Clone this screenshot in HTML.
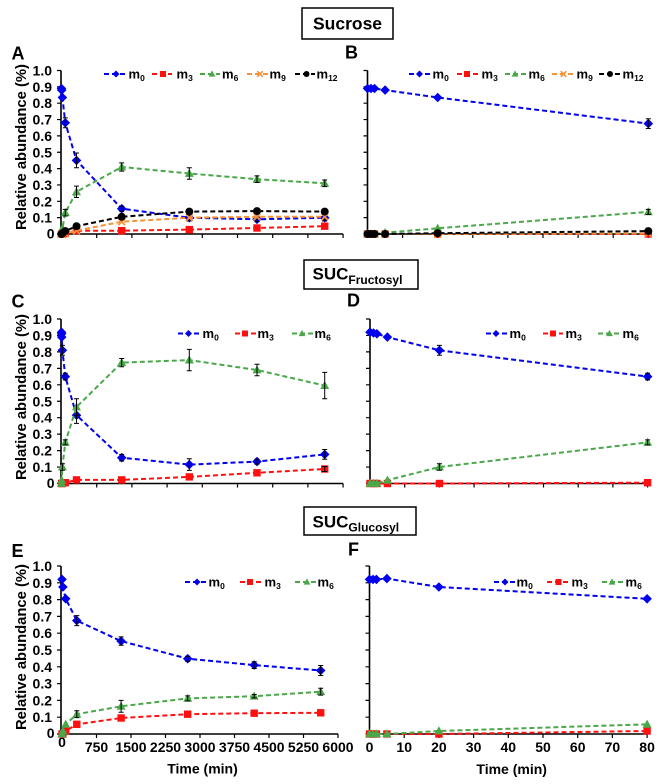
<!DOCTYPE html>
<html><head><meta charset="utf-8"><style>
html,body{margin:0;padding:0;background:#fff;}
svg{display:block;font-family:"Liberation Sans",Arial,sans-serif;font-weight:bold;}
.ax{fill:none;stroke:#000;stroke-width:1.6}
.tk{fill:none;stroke:#000;stroke-width:1.2}
.eb{fill:none;stroke:#000;stroke-width:1}
.l{fill:none;stroke-width:2;stroke-dasharray:5 3}
.bl{stroke:#0000ee}.rd{stroke:#ff1010}.gr{stroke:#4aa84a}.or{stroke:#f7913a}.bk{stroke:#000}
.yl{font-size:14px;text-anchor:end}
.xl{font-size:14px;text-anchor:middle}
.lg{font-size:13px}
.sb{font-size:8.5px}
</style></head><body>
<svg width="663" height="784" viewBox="0 0 663 784" xmlns="http://www.w3.org/2000/svg">
<defs>
<path id="D" d="M0,-4.8 L4.8,0 L0,4.8 L-4.8,0Z" fill="#0000ee"/>
<rect id="S" x="-3.7" y="-3.7" width="7.4" height="7.4" fill="#ff1010"/>
<path id="T" d="M0,-4.7 L4.5,3.4 L-4.5,3.4Z" fill="#4aa84a"/>
<path id="X" d="M-3.4,-3.4 L3.4,3.4 M3.4,-3.4 L-3.4,3.4" stroke="#f7913a" stroke-width="1.8" fill="none"/>
<circle id="C" r="4" fill="#000"/>
<path id="d" d="M0,-3.5 L3.5,0 L0,3.5 L-3.5,0Z" fill="#0000ee"/>
<rect id="s" x="-3" y="-3" width="6" height="6" fill="#ff1010"/>
<path id="t" d="M0,-3.6 L3.4,2.6 L-3.4,2.6Z" fill="#4aa84a"/>
<path id="x" d="M-2.8,-2.8 L2.8,2.8 M2.8,-2.8 L-2.8,2.8" stroke="#f7913a" stroke-width="1.5" fill="none"/>
<circle id="c" r="3" fill="#000"/>
</defs>
<rect width="663" height="784" fill="#fff"/>

<!-- Title boxes -->
<rect x="302" y="8" width="91" height="31" fill="none" stroke="#000" stroke-width="1.5"/>
<text x="347.5" y="29.5" font-size="17.5" text-anchor="middle">Sucrose</text>
<rect x="304" y="260" width="114" height="29" fill="none" stroke="#000" stroke-width="1.5"/>
<text x="312.5" y="279.5" font-size="17">SUC<tspan font-size="12" dy="4.5">Fructosyl</tspan></text>
<rect x="304" y="507" width="112" height="28" fill="none" stroke="#000" stroke-width="1.5"/>
<text x="312.5" y="527.5" font-size="17">SUC<tspan font-size="12" dy="4">Glucosyl</tspan></text>

<!-- Panel letters -->
<text x="11.5" y="59.5" font-size="18">A</text>
<text x="345" y="58.5" font-size="18">B</text>
<text x="11.5" y="307.5" font-size="18">C</text>
<text x="347" y="306.5" font-size="18">D</text>
<text x="11.5" y="557" font-size="18">E</text>
<text x="348" y="555.5" font-size="18">F</text>

<!-- Y axis titles -->
<text transform="translate(26,147) rotate(-90)" font-size="15" text-anchor="middle" textLength="166" lengthAdjust="spacingAndGlyphs">Relative abundance (%)</text>
<text transform="translate(26,397) rotate(-90)" font-size="15" text-anchor="middle" textLength="166" lengthAdjust="spacingAndGlyphs">Relative abundance (%)</text>
<text transform="translate(26,647) rotate(-90)" font-size="15" text-anchor="middle" textLength="166" lengthAdjust="spacingAndGlyphs">Relative abundance (%)</text>

<!-- Y tick labels -->
<g class="yl">
<text x="52" y="75.5">1.0</text><text x="52" y="91.85">0.9</text><text x="52" y="108.2">0.8</text><text x="52" y="124.55">0.7</text><text x="52" y="140.9">0.6</text><text x="52" y="157.25">0.5</text><text x="52" y="173.6">0.4</text><text x="52" y="189.95">0.3</text><text x="52" y="206.3">0.2</text><text x="52" y="222.65">0.1</text><text x="54.5" y="238.5">0</text>
<text x="52" y="324">1.0</text><text x="52" y="340.45">0.9</text><text x="52" y="356.9">0.8</text><text x="52" y="373.35">0.7</text><text x="52" y="389.8">0.6</text><text x="52" y="406.25">0.5</text><text x="52" y="422.7">0.4</text><text x="52" y="439.15">0.3</text><text x="52" y="455.6">0.2</text><text x="52" y="472.05">0.1</text><text x="54.5" y="488">0</text>
<text x="52" y="571">1.0</text><text x="52" y="587.8">0.9</text><text x="52" y="604.6">0.8</text><text x="52" y="621.4">0.7</text><text x="52" y="638.2">0.6</text><text x="52" y="655">0.5</text><text x="52" y="671.8">0.4</text><text x="52" y="688.6">0.3</text><text x="52" y="705.4">0.2</text><text x="52" y="722.2">0.1</text><text x="54.5" y="738">0</text>
</g>

<!-- X tick labels -->
<g class="xl">
<text x="62" y="747">0</text><text x="96.5" y="752">750</text><text x="131" y="752">1500</text><text x="165.5" y="752">2250</text><text x="200" y="752">3000</text><text x="234.5" y="752">3750</text><text x="269" y="752">4500</text><text x="303.5" y="752">5250</text><text x="338" y="752">6000</text>
<text x="369.5" y="752">0</text><text x="404.2" y="752">10</text><text x="438.9" y="752">20</text><text x="473.6" y="752">30</text><text x="508.3" y="752">40</text><text x="543" y="752">50</text><text x="577.7" y="752">60</text><text x="612.4" y="752">70</text><text x="647.1" y="752">80</text>
</g>
<text x="202.5" y="773.5" font-size="14" text-anchor="middle">Time (min)</text>
<text x="511.7" y="774" font-size="14" text-anchor="middle">Time (min)</text>

<!-- Axes -->
<path class="ax" d="M61 70.5 V234 H343.1 M367.5 70.5 V234 H648.3 M61 319 V483.5 H343.1 M370 319 V483.5 H647.6 M61 566 V734 H338 M369.5 566 V734 H647.1"/>
<path class="tk" d="M57 70.5H61M57 86.85H61M57 103.2H61M57 119.55H61M57 135.9H61M57 152.25H61M57 168.6H61M57 184.95H61M57 201.3H61M57 217.65H61M57 234H61
M363.5 70.5H367.5M363.5 86.85H367.5M363.5 103.2H367.5M363.5 119.55H367.5M363.5 135.9H367.5M363.5 152.25H367.5M363.5 168.6H367.5M363.5 184.95H367.5M363.5 201.3H367.5M363.5 217.65H367.5M363.5 234H367.5
M57 319H61M57 335.45H61M57 351.9H61M57 368.35H61M57 384.8H61M57 401.25H61M57 417.7H61M57 434.15H61M57 450.6H61M57 467.05H61M57 483.5H61
M366 319H370M366 335.45H370M366 351.9H370M366 368.35H370M366 384.8H370M366 401.25H370M366 417.7H370M366 434.15H370M366 450.6H370M366 467.05H370M366 483.5H370
M57 566H61M57 582.8H61M57 599.6H61M57 616.4H61M57 633.2H61M57 650H61M57 666.8H61M57 683.6H61M57 700.4H61M57 717.2H61M57 734H61
M365.5 566H369.5M365.5 582.8H369.5M365.5 599.6H369.5M365.5 616.4H369.5M365.5 633.2H369.5M365.5 650H369.5M365.5 666.8H369.5M365.5 683.6H369.5M365.5 700.4H369.5M365.5 717.2H369.5M365.5 734H369.5
M96.7 234V238M131.9 234V238M167.1 234V238M202.3 234V238M237.5 234V238M272.7 234V238M307.9 234V238M343.1 234V238
M96.7 483.5V487.5M131.9 483.5V487.5M167.1 483.5V487.5M202.3 483.5V487.5M237.5 483.5V487.5M272.7 483.5V487.5M307.9 483.5V487.5M343.1 483.5V487.5
M96.5 734V738M131 734V738M165.5 734V738M200 734V738M234.5 734V738M269 734V738M303.5 734V738M338 734V738
M402.6 234V238M437.7 234V238M472.8 234V238M507.9 234V238M543 234V238M578.1 234V238M613.2 234V238M648.3 234V238
M404.7 483.5V487.5M439.4 483.5V487.5M474.1 483.5V487.5M508.8 483.5V487.5M543.5 483.5V487.5M578.2 483.5V487.5M612.9 483.5V487.5M647.6 483.5V487.5
M404.2 734V738M438.9 734V738M473.6 734V738M508.3 734V738M543 734V738M577.7 734V738M612.4 734V738M647.1 734V738"/>

<!-- ========== Panel A ========== -->
<polyline class="l bl" points="61.5,88.5 61.7,90.1 62.4,97.5 65.3,122.8 76.5,160.4 121.7,208.7 189.3,217.7 257,219.3 324.7,217.7"/>
<g><use href="#D" x="61.5" y="88.5"/><use href="#D" x="61.7" y="90.1"/><use href="#D" x="62.4" y="97.5"/><use href="#D" x="65.3" y="122.8"/><use href="#D" x="76.5" y="160.4"/><use href="#D" x="121.7" y="208.7"/><use href="#D" x="189.3" y="217.7"/><use href="#D" x="257" y="219.3"/><use href="#D" x="324.7" y="217.7"/></g>
<path class="eb" d="M65.3 117.9V127.7M62.8 117.9H67.8M62.8 127.7H67.8 M76.5 153V167.8M74 153H79M74 167.8H79 M121.7 206.2V211.2M119.2 206.2H124.2M119.2 211.2H124.2 M189.3 214.4V221M186.8 214.4H191.8M186.8 221H191.8 M257 216.8V221.8M254.5 216.8H259.5M254.5 221.8H259.5 M324.7 214.4V221M322.2 214.4H327.2M322.2 221H327.2"/>
<polyline class="l rd" points="61.5,234 62.4,234 65.3,233.5 76.5,230.7 121.7,230.7 189.3,229.6 257,228 324.7,226.2"/>
<g><use href="#S" x="61.5" y="234"/><use href="#S" x="62.4" y="234"/><use href="#S" x="65.3" y="233.5"/><use href="#S" x="76.5" y="230.7"/><use href="#S" x="121.7" y="230.7"/><use href="#S" x="189.3" y="229.6"/><use href="#S" x="257" y="228"/><use href="#S" x="324.7" y="226.2"/></g>
<polyline class="l gr" points="61.5,234 61.7,232.7 62.4,228.3 65.3,212.7 76.5,191.8 121.7,167 189.3,173.5 257,179.2 324.7,183.3"/>
<g><use href="#T" x="61.5" y="234"/><use href="#T" x="61.7" y="232.7"/><use href="#T" x="62.4" y="228.3"/><use href="#T" x="65.3" y="212.7"/><use href="#T" x="76.5" y="191.8"/><use href="#T" x="121.7" y="167"/><use href="#T" x="189.3" y="173.5"/><use href="#T" x="257" y="179.2"/><use href="#T" x="324.7" y="183.3"/></g>
<path class="eb" d="M65.3 209.4V216M62.8 209.4H67.8M62.8 216H67.8 M76.5 186.1V197.5M74 186.1H79M74 197.5H79 M121.7 162.9V171.1M119.2 162.9H124.2M119.2 171.1H124.2 M189.3 167.8V179.2M186.8 167.8H191.8M186.8 179.2H191.8 M257 175.9V182.5M254.5 175.9H259.5M254.5 182.5H259.5 M324.7 180V186.6M322.2 180H327.2M322.2 186.6H327.2"/>
<polyline class="l or" points="61.5,234 62.4,234 65.3,233.5 76.5,230.7 121.7,221.7 189.3,217.7 257,216.8 324.7,216.8"/>
<g><use href="#X" x="61.5" y="234"/><use href="#X" x="65.3" y="233.5"/><use href="#X" x="76.5" y="230.7"/><use href="#X" x="121.7" y="221.7"/><use href="#X" x="189.3" y="217.7"/><use href="#X" x="257" y="216.8"/><use href="#X" x="324.7" y="216.8"/></g>
<polyline class="l bk" points="61.5,234 61.7,234 62.4,233.2 65.3,231.1 76.5,226.2 121.7,216.8 189.3,211.6 257,211.1 324.7,211.6"/>
<g><use href="#C" x="61.5" y="234"/><use href="#C" x="62.4" y="233.2"/><use href="#C" x="65.3" y="231.1"/><use href="#C" x="76.5" y="226.2"/><use href="#C" x="121.7" y="216.8"/><use href="#C" x="189.3" y="211.6"/><use href="#C" x="257" y="211.1"/><use href="#C" x="324.7" y="211.6"/></g>
<path class="eb" d="M189.3 209.8V213.4M186.8 209.8H191.8M186.8 213.4H191.8"/>

<!-- ========== Panel B ========== -->
<polyline class="l bl" points="367.5,88.5 371,88.5 374.5,88.5 385.1,90.1 437.7,97.5 648.3,123.6"/>
<g><use href="#D" x="367.5" y="88.5"/><use href="#D" x="371" y="88.5"/><use href="#D" x="374.5" y="88.5"/><use href="#D" x="385.1" y="90.1"/><use href="#D" x="437.7" y="97.5"/><use href="#D" x="648.3" y="123.6"/></g>
<path class="eb" d="M648.3 118.7V128.5M645.8 118.7H650.8M645.8 128.5H650.8"/>
<polyline class="l rd" points="367.5,234 648.3,234"/>
<g><use href="#S" x="367.5" y="234"/><use href="#S" x="371" y="234"/><use href="#S" x="374.5" y="234"/><use href="#S" x="385.1" y="234"/><use href="#S" x="437.7" y="234"/><use href="#S" x="648.3" y="234"/></g>
<polyline class="l gr" points="367.5,234 371,234 374.5,234 385.1,232.7 437.7,228.3 648.3,211.9"/>
<g><use href="#T" x="367.5" y="234"/><use href="#T" x="371" y="234"/><use href="#T" x="374.5" y="234"/><use href="#T" x="385.1" y="232.7"/><use href="#T" x="437.7" y="228.3"/><use href="#T" x="648.3" y="211.9"/></g>
<path class="eb" d="M648.3 209.4V214.4M645.8 209.4H650.8M645.8 214.4H650.8"/>
<polyline class="l or" points="367.5,234 437.7,234 648.3,233.5"/>
<g><use href="#X" x="367.5" y="234"/><use href="#X" x="374.5" y="234"/><use href="#X" x="385.1" y="234"/><use href="#X" x="437.7" y="234"/><use href="#X" x="648.3" y="233.5"/></g>
<polyline class="l bk" points="367.5,234 371,234 374.5,234 385.1,234 437.7,233.2 648.3,231.1"/>
<g><use href="#C" x="367.5" y="234"/><use href="#C" x="371" y="234"/><use href="#C" x="374.5" y="234"/><use href="#C" x="385.1" y="234"/><use href="#C" x="437.7" y="233.2"/><use href="#C" x="648.3" y="231.1"/></g>

<!-- ========== Panel C ========== -->
<polyline class="l bl" points="61.5,332.2 61.5,333 61.6,333.8 61.7,337.1 62.4,350.3 65.3,376.6 76.5,415.2 121.7,457.7 189.3,464.6 257,461.6 324.7,454.4"/>
<g><use href="#D" x="61.5" y="332.2"/><use href="#D" x="61.6" y="333.8"/><use href="#D" x="61.7" y="337.1"/><use href="#D" x="62.4" y="350.3"/><use href="#D" x="65.3" y="376.6"/><use href="#D" x="76.5" y="415.2"/><use href="#D" x="121.7" y="457.7"/><use href="#D" x="189.3" y="464.6"/><use href="#D" x="257" y="461.6"/><use href="#D" x="324.7" y="454.4"/></g>
<path class="eb" d="M62.4 345.4V355.2M59.9 345.4H64.9M59.9 355.2H64.9 M65.3 373.3V379.9M62.8 373.3H67.8M62.8 379.9H67.8 M76.5 407V423.4M74 407H79M74 423.4H79 M121.7 454.4V461M119.2 454.4H124.2M119.2 461H124.2 M189.3 458.8V470.4M186.8 458.8H191.8M186.8 470.4H191.8 M257 459.1V464.1M254.5 459.1H259.5M254.5 464.1H259.5 M324.7 449.5V459.3M322.2 449.5H327.2M322.2 459.3H327.2"/>
<polyline class="l rd" points="61.5,483.5 62.4,483.5 65.3,482.7 76.5,479.9 121.7,479.9 189.3,476.9 257,472.8 324.7,469"/>
<g><use href="#S" x="61.5" y="483.5"/><use href="#S" x="62.4" y="483.5"/><use href="#S" x="65.3" y="482.7"/><use href="#S" x="76.5" y="479.9"/><use href="#S" x="121.7" y="479.9"/><use href="#S" x="189.3" y="476.9"/><use href="#S" x="257" y="472.8"/><use href="#S" x="324.7" y="469"/></g>
<path class="eb" d="M324.7 466.5V471.5M322.2 466.5H327.2M322.2 471.5H327.2"/>
<polyline class="l gr" points="61.5,483.5 61.6,483.5 61.7,480.2 62.4,467 65.3,442.4 76.5,407 121.7,362.6 189.3,360.1 257,370 324.7,385.6"/>
<g><use href="#T" x="61.5" y="483.5"/><use href="#T" x="61.7" y="480.2"/><use href="#T" x="62.4" y="467"/><use href="#T" x="65.3" y="442.4"/><use href="#T" x="76.5" y="407"/><use href="#T" x="121.7" y="362.6"/><use href="#T" x="189.3" y="360.1"/><use href="#T" x="257" y="370"/><use href="#T" x="324.7" y="385.6"/></g>
<path class="eb" d="M62.4 463.7V470.3M59.9 463.7H64.9M59.9 470.3H64.9 M65.3 439.9V444.9M62.8 439.9H67.8M62.8 444.9H67.8 M76.5 398.8V415.2M74 398.8H79M74 415.2H79 M121.7 358.5V366.7M119.2 358.5H124.2M119.2 366.7H124.2 M189.3 349.4V370.8M186.8 349.4H191.8M186.8 370.8H191.8 M257 364.2V375.8M254.5 364.2H259.5M254.5 375.8H259.5 M324.7 372.4V398.8M322.2 372.4H327.2M322.2 398.8H327.2"/>

<!-- ========== Panel D ========== -->
<polyline class="l bl" points="370,332.2 373.5,333 376.9,333.8 387.4,337.1 439.4,350.3 647.6,376.6"/>
<g><use href="#D" x="370" y="332.2"/><use href="#D" x="373.5" y="333"/><use href="#D" x="376.9" y="333.8"/><use href="#D" x="387.4" y="337.1"/><use href="#D" x="439.4" y="350.3"/><use href="#D" x="647.6" y="376.6"/></g>
<path class="eb" d="M439.4 345.4V355.2M436.9 345.4H441.9M436.9 355.2H441.9 M647.6 373.3V379.9M645.1 373.3H650.1M645.1 379.9H650.1"/>
<polyline class="l rd" points="370,483.5 439.4,483.5 647.6,482.7"/>
<g><use href="#S" x="370" y="483.5"/><use href="#S" x="373.5" y="483.5"/><use href="#S" x="376.9" y="483.5"/><use href="#S" x="387.4" y="483.5"/><use href="#S" x="439.4" y="483.5"/><use href="#S" x="647.6" y="482.7"/></g>
<polyline class="l gr" points="370,483.5 373.5,483.5 376.9,483.5 387.4,480.2 439.4,467 647.6,442.4"/>
<g><use href="#T" x="370" y="483.5"/><use href="#T" x="373.5" y="483.5"/><use href="#T" x="376.9" y="483.5"/><use href="#T" x="387.4" y="480.2"/><use href="#T" x="439.4" y="467"/><use href="#T" x="647.6" y="442.4"/></g>
<path class="eb" d="M439.4 463.7V470.3M436.9 463.7H441.9M436.9 470.3H441.9 M647.6 439.9V444.9M645.1 439.9H650.1M645.1 444.9H650.1"/>

<!-- ========== Panel E ========== -->
<polyline class="l bl" points="62,579.4 62.2,578.6 62.9,587 65.7,598.8 76.8,620.6 121.1,641.1 187.7,658.7 254.2,665.1 320.7,670.5"/>
<g><use href="#D" x="62" y="579.4"/><use href="#D" x="62.9" y="587"/><use href="#D" x="65.7" y="598.8"/><use href="#D" x="76.8" y="620.6"/><use href="#D" x="121.1" y="641.1"/><use href="#D" x="187.7" y="658.7"/><use href="#D" x="254.2" y="665.1"/><use href="#D" x="320.7" y="670.5"/></g>
<path class="eb" d="M76.8 615.6V625.6M74.3 615.6H79.3M74.3 625.6H79.3 M121.1 636.9V645.3M118.6 636.9H123.6M118.6 645.3H123.6 M187.7 656.2V661.2M185.2 656.2H190.2M185.2 661.2H190.2 M254.2 661.7V668.5M251.7 661.7H256.7M251.7 668.5H256.7 M320.7 665.5V675.5M318.2 665.5H323.2M318.2 675.5H323.2"/>
<polyline class="l rd" points="62,734 62.9,734 65.7,731 76.8,724.3 121.1,718 187.7,714.2 254.2,713.2 320.7,712.8"/>
<g><use href="#S" x="62" y="734"/><use href="#S" x="62.9" y="734"/><use href="#S" x="65.7" y="731"/><use href="#S" x="76.8" y="724.3"/><use href="#S" x="121.1" y="718"/><use href="#S" x="187.7" y="714.2"/><use href="#S" x="254.2" y="713.2"/><use href="#S" x="320.7" y="712.8"/></g>
<polyline class="l gr" points="62,734 62.2,734 62.9,731 65.7,724.3 76.8,714.2 121.1,706.3 187.7,698.4 254.2,696.2 320.7,691.7"/>
<g><use href="#T" x="62" y="734"/><use href="#T" x="62.9" y="731"/><use href="#T" x="65.7" y="724.3"/><use href="#T" x="76.8" y="714.2"/><use href="#T" x="121.1" y="706.3"/><use href="#T" x="187.7" y="698.4"/><use href="#T" x="254.2" y="696.2"/><use href="#T" x="320.7" y="691.7"/></g>
<path class="eb" d="M76.8 710.8V717.6M74.3 710.8H79.3M74.3 717.6H79.3 M121.1 700.4V712.2M118.6 700.4H123.6M118.6 712.2H123.6 M187.7 695.9V700.9M185.2 695.9H190.2M185.2 700.9H190.2 M254.2 694.5V697.9M251.7 694.5H256.7M251.7 697.9H256.7 M320.7 688.3V695.1M318.2 688.3H323.2M318.2 695.1H323.2"/>

<!-- ========== Panel F ========== -->
<polyline class="l bl" points="369.5,579.4 373,579.4 376.4,579.4 386.9,578.6 438.9,587 647.1,598.8"/>
<g><use href="#D" x="369.5" y="579.4"/><use href="#D" x="373" y="579.4"/><use href="#D" x="376.4" y="579.4"/><use href="#D" x="386.9" y="578.6"/><use href="#D" x="438.9" y="587"/><use href="#D" x="647.1" y="598.8"/></g>
<polyline class="l rd" points="369.5,734 438.9,734 647.1,731"/>
<g><use href="#S" x="369.5" y="734"/><use href="#S" x="373" y="734"/><use href="#S" x="376.4" y="734"/><use href="#S" x="386.9" y="734"/><use href="#S" x="438.9" y="734"/><use href="#S" x="647.1" y="731"/></g>
<polyline class="l gr" points="369.5,734 386.9,734 438.9,731 647.1,724.3"/>
<g><use href="#T" x="369.5" y="734"/><use href="#T" x="373" y="734"/><use href="#T" x="376.4" y="734"/><use href="#T" x="386.9" y="734"/><use href="#T" x="438.9" y="731"/><use href="#T" x="647.1" y="724.3"/></g>

<!-- ========== Legends ========== -->
<!-- A -->
<g>
<line class="l bl" x1="104" y1="74" x2="126" y2="74"/><use href="#d" x="116" y="74"/>
<text class="lg" x="128.5" y="78.5">m<tspan class="sb" dy="2.5">0</tspan></text>
<line class="l rd" x1="152" y1="74" x2="172" y2="74"/><use href="#s" x="163" y="74"/>
<text class="lg" x="176.5" y="78.5">m<tspan class="sb" dy="2.5">3</tspan></text>
<line class="l gr" x1="200" y1="74" x2="220" y2="74"/><use href="#t" x="212" y="74"/>
<text class="lg" x="222" y="78.5">m<tspan class="sb" dy="2.5">6</tspan></text>
<line class="l or" x1="247" y1="74" x2="268" y2="74"/><use href="#x" x="260" y="74"/>
<text class="lg" x="269.5" y="78.5">m<tspan class="sb" dy="2.5">9</tspan></text>
<line class="l bk" x1="295" y1="74" x2="315" y2="74"/><use href="#c" x="306.5" y="74"/>
<text class="lg" x="316.5" y="78.5">m<tspan class="sb" dy="2.5">12</tspan></text>
</g>
<!-- B -->
<g>
<line class="l bl" x1="409" y1="74" x2="431" y2="74"/><use href="#d" x="419.5" y="74"/>
<text class="lg" x="432.5" y="78.5">m<tspan class="sb" dy="2.5">0</tspan></text>
<line class="l rd" x1="457" y1="74" x2="478" y2="74"/><use href="#s" x="467" y="74"/>
<text class="lg" x="481.5" y="78.5">m<tspan class="sb" dy="2.5">3</tspan></text>
<line class="l gr" x1="505" y1="74" x2="527" y2="74"/><use href="#t" x="515" y="74"/>
<text class="lg" x="528.5" y="78.5">m<tspan class="sb" dy="2.5">6</tspan></text>
<line class="l or" x1="552" y1="74" x2="575" y2="74"/><use href="#x" x="563.5" y="74"/>
<text class="lg" x="576.5" y="78.5">m<tspan class="sb" dy="2.5">9</tspan></text>
<line class="l bk" x1="599" y1="74" x2="621" y2="74"/><use href="#c" x="610" y="74"/>
<text class="lg" x="622.5" y="78.5">m<tspan class="sb" dy="2.5">12</tspan></text>
</g>
<!-- C -->
<g>
<line class="l bl" x1="178" y1="333.5" x2="200" y2="333.5"/><use href="#d" x="188.5" y="333.5"/>
<text class="lg" x="202.5" y="338">m<tspan class="sb" dy="2.5">0</tspan></text>
<line class="l rd" x1="235" y1="333.5" x2="256" y2="333.5"/><use href="#s" x="245" y="333.5"/>
<text class="lg" x="257.5" y="338">m<tspan class="sb" dy="2.5">3</tspan></text>
<line class="l gr" x1="292" y1="333.5" x2="313" y2="333.5"/><use href="#t" x="302" y="333.5"/>
<text class="lg" x="314.5" y="338">m<tspan class="sb" dy="2.5">6</tspan></text>
</g>
<!-- D -->
<g>
<line class="l bl" x1="486" y1="333.5" x2="508" y2="333.5"/><use href="#d" x="496" y="333.5"/>
<text class="lg" x="509.5" y="338">m<tspan class="sb" dy="2.5">0</tspan></text>
<line class="l rd" x1="543" y1="333.5" x2="563" y2="333.5"/><use href="#s" x="553" y="333.5"/>
<text class="lg" x="565.5" y="338">m<tspan class="sb" dy="2.5">3</tspan></text>
<line class="l gr" x1="598" y1="333.5" x2="620" y2="333.5"/><use href="#t" x="609.5" y="333.5"/>
<text class="lg" x="622.5" y="338">m<tspan class="sb" dy="2.5">6</tspan></text>
</g>
<!-- E -->
<g>
<line class="l bl" x1="185" y1="582" x2="207" y2="582"/><use href="#d" x="197" y="582"/>
<text class="lg" x="208.5" y="586.5">m<tspan class="sb" dy="2.5">0</tspan></text>
<line class="l rd" x1="240" y1="582" x2="262" y2="582"/><use href="#s" x="250" y="582"/>
<text class="lg" x="264.5" y="586.5">m<tspan class="sb" dy="2.5">3</tspan></text>
<line class="l gr" x1="295" y1="582" x2="317" y2="582"/><use href="#t" x="307" y="582"/>
<text class="lg" x="317.5" y="586.5">m<tspan class="sb" dy="2.5">6</tspan></text>
</g>
<!-- F -->
<g>
<line class="l bl" x1="494" y1="582" x2="515" y2="582"/><use href="#d" x="505" y="582"/>
<text class="lg" x="516.5" y="586.5">m<tspan class="sb" dy="2.5">0</tspan></text>
<line class="l rd" x1="547" y1="582" x2="568" y2="582"/><use href="#s" x="558.5" y="582"/>
<text class="lg" x="571.5" y="586.5">m<tspan class="sb" dy="2.5">3</tspan></text>
<line class="l gr" x1="602" y1="582" x2="623" y2="582"/><use href="#t" x="612" y="582"/>
<text class="lg" x="625.5" y="586.5">m<tspan class="sb" dy="2.5">6</tspan></text>
</g>
</svg>
</body></html>
